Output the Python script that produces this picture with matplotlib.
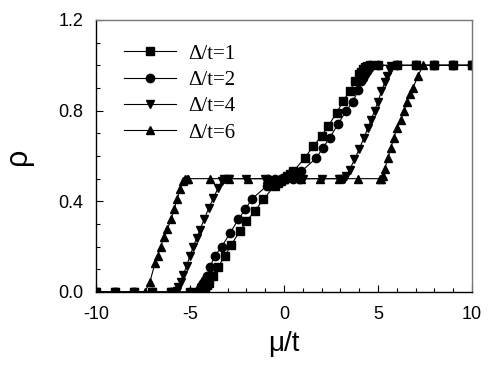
import matplotlib
matplotlib.use("Agg")
import matplotlib.pyplot as plt
from matplotlib.ticker import MultipleLocator, FormatStrFormatter

plt.rcParams['axes.unicode_minus'] = False
plt.rcParams['font.family'] = ['Liberation Sans', 'DejaVu Sans']

# Delta/t = 1 (squares)
mu_1 = [-10, -9, -8, -7, -6, -5, -4.6, -4.4, -4.3, -4.2, -4.1, -4.0, -3.8, -3.5,
        -3.15, -2.8, -2.35, -2.0, -1.55, -1.1, -0.5, -0.3, -0.15, -0.05, 0,
        0.05, 0.15, 0.3, 0.5, 1.1, 1.55, 2.0, 2.35, 2.8, 3.15, 3.5, 3.8, 4.0,
        4.1, 4.2, 4.3, 4.4, 4.6, 5, 6, 7, 8, 9, 10]
rho_1 = [0, 0, 0, 0, 0, 0, 0, 0.003, 0.008, 0.018, 0.03, 0.04, 0.07, 0.112,
         0.157, 0.209, 0.268, 0.312, 0.357, 0.409, 0.468, 0.48, 0.49, 0.497, 0.5,
         0.503, 0.51, 0.52, 0.532, 0.591, 0.643, 0.688, 0.732, 0.791, 0.843, 0.888, 0.93, 0.96,
         0.97, 0.982, 0.992, 0.997, 1, 1, 1, 1, 1, 1, 1]

# Delta/t = 2 (circles)
mu_2 = [-10, -9, -8, -7, -6, -5, -4.6, -4.5, -4.4, -4.3, -4.2, -4.1, -3.94, -3.67,
        -3.31, -2.87, -2.43, -2.07, -1.72, -0.92, -0.85, -0.5, 0, 0.5, 0.85,
        0.92, 1.72, 2.07, 2.43, 2.87, 3.31, 3.67, 3.94, 4.1, 4.2, 4.3, 4.4,
        4.5, 4.6, 5, 6, 7, 8, 9, 10]
rho_2 = [0, 0, 0, 0, 0, 0, 0, 0.01, 0.025, 0.04, 0.055, 0.07, 0.11, 0.16,
         0.2, 0.26, 0.32, 0.364, 0.409, 0.468, 0.5, 0.5, 0.5, 0.5, 0.5,
         0.532, 0.591, 0.636, 0.68, 0.74, 0.8, 0.84, 0.89, 0.93, 0.945, 0.96, 0.975,
         0.99, 1, 1, 1, 1, 1, 1, 1]

# Delta/t = 4 (down triangles)
mu_4 = [-10, -9, -8, -7, -6, -5.7, -5.62, -5.5, -5.36, -5.18, -5.0, -4.82, -4.64,
        -4.47, -4.25, -4.0, -3.75, -3.5, -3.3, -3.2, -3.0, -2.9, -2.0, -1.0, 0,
        1.0, 2.0, 2.9, 3.0, 3.2, 3.3, 3.5, 3.75, 4.0, 4.25, 4.47, 4.64, 4.82,
        5.0, 5.18, 5.36, 5.5, 5.62, 5.7, 6, 7, 8, 9, 10]
rho_4 = [0, 0, 0, 0, 0, 0.005, 0.02, 0.045, 0.075, 0.115, 0.16, 0.2, 0.24,
         0.275, 0.32, 0.37, 0.415, 0.46, 0.49, 0.5, 0.5, 0.5, 0.5, 0.5, 0.5,
         0.5, 0.5, 0.5, 0.5, 0.5, 0.51, 0.54, 0.585, 0.63, 0.68, 0.725, 0.76, 0.8,
         0.84, 0.885, 0.925, 0.955, 0.98, 0.995, 1, 1, 1, 1, 1]

# Delta/t = 6 (up triangles)
mu_6 = [-10, -9, -8, -7.4, -7.13, -6.86, -6.72, -6.56, -6.38, -6.21, -6.01, -5.85,
        -5.68, -5.53, -5.36, -5.25, -5.18, -5.1, -3.94, -2.9, -1.9, -0.9, 0,
        0.9, 1.9, 2.9, 3.94, 5.1, 5.18, 5.25, 5.36, 5.53, 5.68, 5.85, 6.01,
        6.21, 6.38, 6.56, 6.72, 6.86, 7.13, 7.4, 8, 9, 10]
rho_6 = [0, 0, 0, 0.0, 0.046, 0.127, 0.16, 0.2, 0.243, 0.276, 0.32, 0.364,
         0.41, 0.456, 0.49, 0.5, 0.5, 0.5, 0.5, 0.5, 0.5, 0.5, 0.5,
         0.5, 0.5, 0.5, 0.5, 0.5, 0.5, 0.51, 0.544, 0.59, 0.636, 0.68, 0.724,
         0.757, 0.8, 0.84, 0.873, 0.9, 0.954, 1, 1, 1, 1]

series = [
    (mu_1, rho_1, 's', 'Δ/t=1'),
    (mu_2, rho_2, 'o', 'Δ/t=2'),
    (mu_4, rho_4, 'v', 'Δ/t=4'),
    (mu_6, rho_6, '^', 'Δ/t=6'),
]

fig = plt.figure(figsize=(4.91, 3.83), dpi=100)
ax = fig.add_axes([0.1955, 0.2376, 0.7658, 0.7102])

for mu, rho, m, lab in series:
    ax.plot(mu, rho, color='black', lw=0.8, marker=m, markersize=6,
            markerfacecolor='black', markeredgecolor='black', label=lab)

ax.set_xlim(-10, 10)
ax.set_ylim(0, 1.2)
ax.xaxis.set_major_locator(MultipleLocator(5))
ax.xaxis.set_minor_locator(MultipleLocator(1))
ax.yaxis.set_major_locator(MultipleLocator(0.4))
ax.yaxis.set_minor_locator(MultipleLocator(0.1))
ax.yaxis.set_major_formatter(FormatStrFormatter('%.1f'))
ax.tick_params(which='both', direction='in', top=False, right=False,
               labelsize=13, width=0.8)
ax.tick_params(which='major', length=5)
ax.tick_params(axis='x', which='major', pad=10)
ax.tick_params(axis='y', which='major', pad=9)
ax.tick_params(which='minor', length=3)

for s in ['left', 'bottom']:
    ax.spines[s].set_color('black')
    ax.spines[s].set_linewidth(1.0)
for s in ['top', 'right']:
    ax.spines[s].set_color('#777777')
    ax.spines[s].set_linewidth(1.0)

ax.set_xlabel('μ/t', fontsize=20, labelpad=6)
ax.set_ylabel('ρ', fontsize=22, labelpad=18)

leg = ax.legend(loc='upper left', bbox_to_anchor=(0.025, 0.98), frameon=False,
                prop={'family': 'Liberation Serif', 'size': 15},
                handlelength=2.5, labelspacing=0.32, handletextpad=0.6)

fig.savefig('out.png', dpi=100)
